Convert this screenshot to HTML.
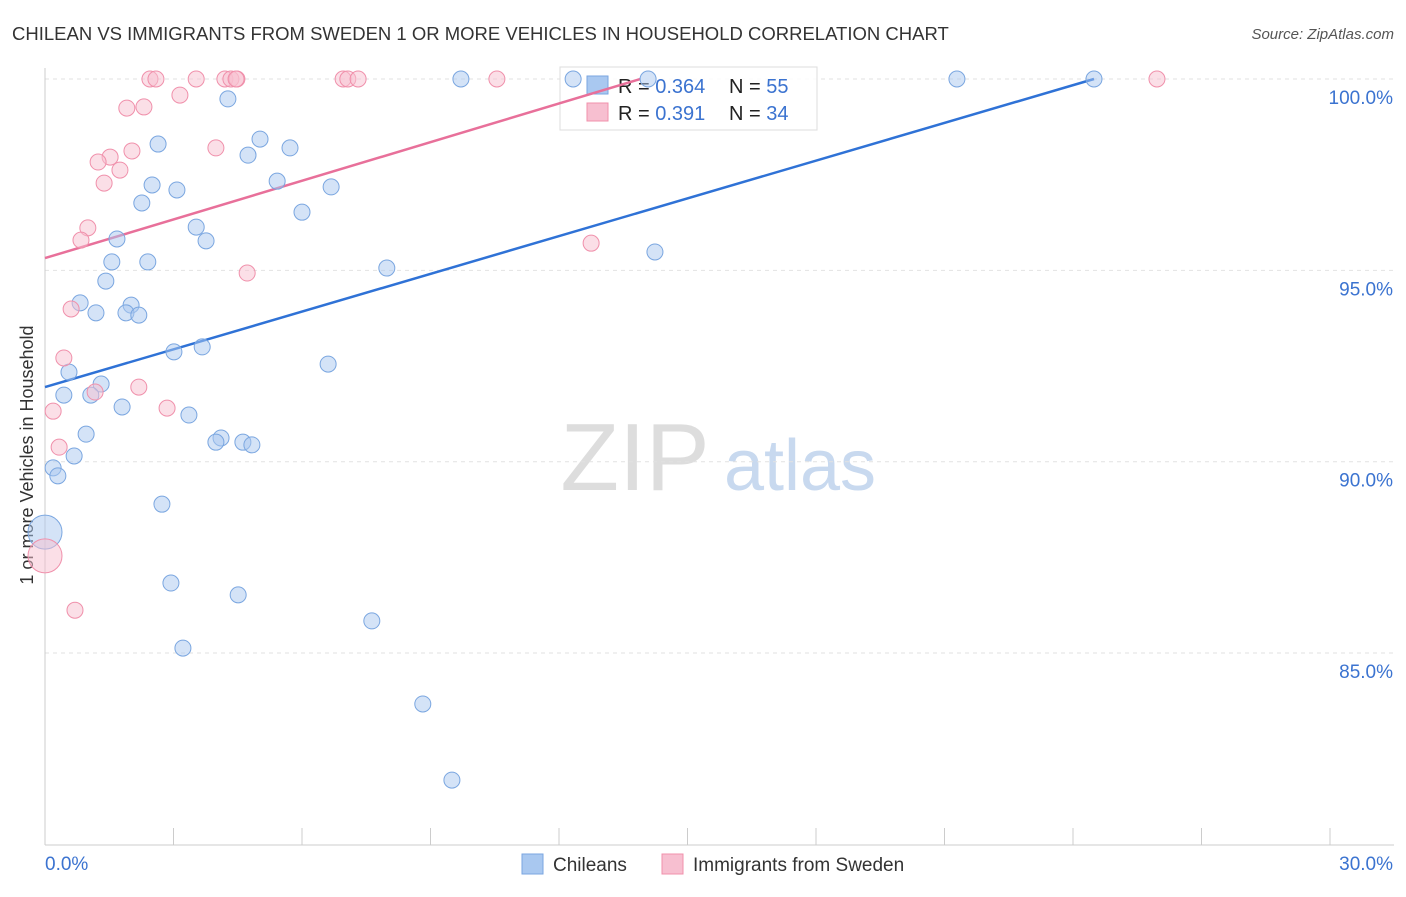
<!DOCTYPE html>
<html><head><meta charset="utf-8"><style>
body{margin:0;background:#fff;font-family:"Liberation Sans",sans-serif;}
svg text{font-family:"Liberation Sans",sans-serif;}
</style></head><body>
<svg id="c" width="1406" height="892">
<text x="12" y="40" font-size="18.5" fill="#333">CHILEAN VS IMMIGRANTS FROM SWEDEN 1 OR MORE VEHICLES IN HOUSEHOLD CORRELATION CHART</text>
<text x="1394" y="39" font-size="15" fill="#555" text-anchor="end" font-style="italic">Source: ZipAtlas.com</text>
<text transform="translate(33,455) rotate(-90)" font-size="18" fill="#333" text-anchor="middle">1 or more Vehicles in Household</text>
<g><text x="635" y="490" font-size="96" fill="#ddd" font-family="Liberation Serif" text-anchor="middle">ZIP</text><text x="800" y="490" font-size="72" fill="#c8d9ef" text-anchor="middle">atlas</text></g>
<g id="grid"></g><g id="axes"></g>
<g>
<rect x="560" y="67" width="257" height="63" fill="#fff" fill-opacity="0.85" stroke="#ddd"/>
<rect x="587" y="76" width="21" height="18" fill="#a9c8f0" stroke="#7aa6e0"/>
<rect x="587" y="103" width="21" height="18" fill="#f7bfd0" stroke="#f090ab"/>
<text x="618" y="93" font-size="20" fill="#222">R = <tspan fill="#3b73d0">0.364</tspan></text>
<text x="729" y="93" font-size="20" fill="#222">N = <tspan fill="#3b73d0">55</tspan></text>
<text x="618" y="120" font-size="20" fill="#222">R = <tspan fill="#3b73d0"> 0.391</tspan></text>
<text x="729" y="120" font-size="20" fill="#222">N = <tspan fill="#3b73d0">34</tspan></text>
</g>
<g id="lines"></g><g id="pts"></g>
<g>
<rect x="522" y="854" width="21" height="20" fill="#a9c8f0" stroke="#7aa6e0"/>
<text x="553" y="871" font-size="19" fill="#333">Chileans</text>
<rect x="662" y="854" width="21" height="20" fill="#f7bfd0" stroke="#f090ab"/>
<text x="693" y="871" font-size="19" fill="#333">Immigrants from Sweden</text>
</g>
</svg>
<script>
const blueX=[12.33,14.08,9.71,21.29,24.49,4.27,2.64,5.02,5.72,4.74,5.42,2.50,3.08,6.68,2.26,6.00,3.53,1.68,3.76,1.56,2.40,7.98,14.24,1.42,0.82,2.01,1.19,1.89,2.19,3.01,3.67,6.61,0.56,1.31,0.44,1.07,1.80,3.36,0.96,4.11,3.99,4.62,4.83,0.68,0.19,0.30,2.73,0,2.94,4.51,7.63,3.22,8.82,9.50];
const blueY=[100,100,100,100,100,99.48,98.30,98.43,98.20,98.01,97.33,97.23,97.10,97.18,96.76,96.52,96.13,95.82,95.77,95.22,95.22,95.06,95.48,94.72,94.15,94.09,93.89,93.89,93.83,92.87,93.00,92.55,92.34,92.03,91.74,91.74,91.43,91.22,90.72,90.62,90.51,90.51,90.44,90.15,89.84,89.63,88.89,88.16,86.83,86.52,85.84,85.13,83.67,81.68];
const blueBig=[47];
const pinkX=[2.45,2.59,3.53,4.20,4.34,4.48,4.46,6.96,7.07,7.31,10.55,25.96,3.15,1.91,2.31,3.99,2.03,1.52,1.24,1.75,1.38,1.00,0.84,12.75,4.72,0.61,0.44,2.19,1.17,2.85,0.19,0.33,0,0.70];
const pinkY=[100,100,100,100,100,100,100,100,100,100,100,100,99.58,99.24,99.27,98.20,98.12,97.96,97.83,97.62,97.28,96.11,95.79,95.71,94.93,93.99,92.71,91.95,91.82,91.40,91.32,90.38,87.54,86.12];
const pinkBig=[32];
const blueTrend=[0,91.95,24.49,100];
const pinkTrend=[0,95.32,13.9,100];
const yTicks=[100,95,90,85];
const xTicks=[0,3,6,9,12,15,18,21,24,27,30];
const X=v=>45+v*1285/30, Y=v=>79+(100-v)*38.27;
const NS="http://www.w3.org/2000/svg";
function mk(p,t,a){const e=document.createElementNS(NS,t);for(const k in a)e.setAttribute(k,a[k]);document.getElementById(p).appendChild(e);return e;}
yTicks.forEach(t=>{
 const l=mk('grid','line',{x1:45,x2:1394,y1:Y(t),y2:Y(t),stroke:'#e2e2e2','stroke-dasharray':'4,4'});
 
 
 const s=mk('axes','text',{x:1393,y:Y(t)+25,'font-size':19,fill:'#3b73d0','text-anchor':'end'});s.textContent=t.toFixed(1)+'%';
 
 
});
mk('axes','line',{x1:45,x2:45,y1:68,y2:845,stroke:'#ccc'});
mk('axes','line',{x1:45,x2:1394,y1:845,y2:845,stroke:'#ccc'});
xTicks.forEach(t=>{const l=mk('axes','line',{x1:X(t),x2:X(t),y1:828,y2:845,stroke:'#ccc'});
 
 });
let a=mk('axes','text',{x:45,y:870,'font-size':19,fill:'#3b73d0'});a.textContent='0.0%';


a=mk('axes','text',{x:1393,y:870,'font-size':19,fill:'#3b73d0','text-anchor':'end'});a.textContent='30.0%';


function pts(xs,ys,big,fill,stroke,name){xs.forEach((x,i)=>{const c=mk('pts','circle',{cx:X(x),cy:Y(ys[i]),r:big.includes(i)?17:8,fill:fill,'fill-opacity':0.5,stroke:stroke,'stroke-width':1});
 
 });}
pts(blueX,blueY,blueBig,'#a9c8f0','#7aa6e0','chilean-point');
pts(pinkX,pinkY,pinkBig,'#f7bfd0','#f090ab','sweden-point');
let t1=mk('lines','line',{x1:X(blueTrend[0]),y1:Y(blueTrend[1]),x2:X(blueTrend[2]),y2:Y(blueTrend[3]),stroke:'#2f72d6','stroke-width':2.5});


let t2=mk('lines','line',{x1:X(pinkTrend[0]),y1:Y(pinkTrend[1]),x2:X(pinkTrend[2]),y2:Y(pinkTrend[3]),stroke:'#e8709a','stroke-width':2.5});


</script>
</body></html>
